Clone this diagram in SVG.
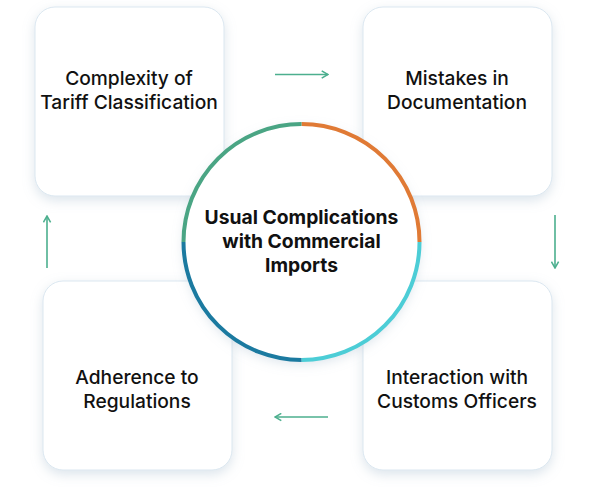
<svg xmlns="http://www.w3.org/2000/svg" width="602" height="493" viewBox="0 0 602 493">
<defs>
<filter id="sh" x="-20%" y="-20%" width="140%" height="140%">
<feDropShadow dx="0" dy="4" stdDeviation="6" flood-color="#9bb4c8" flood-opacity="0.35"/>
</filter>
<marker id="ah" viewBox="0 0 10 10" refX="9" refY="5" markerWidth="9" markerHeight="9" markerUnits="userSpaceOnUse" orient="auto">
<path d="M2,1 L9,5 L2,9" fill="none" stroke="#4caf8e" stroke-width="1.7"/>
</marker>
<style>
.box{fill:#ffffff;stroke:#dbe7f0;stroke-width:1;filter:url(#sh)}
.lbl{font-family:Inter,"Liberation Sans",sans-serif;font-size:19.2px;font-weight:500;fill:#111;text-anchor:middle}
.ctr{font-family:Inter,"Liberation Sans",sans-serif;font-size:19.3px;font-weight:700;fill:#111;text-anchor:middle}
.arr{stroke:#4caf8e;stroke-width:1.6;fill:none;marker-end:url(#ah)}
.ring{fill:none;stroke-width:4}
</style>
</defs>
<g id="node-complexity">
<rect class="box" x="35" y="7" width="189" height="189" rx="20"/>
<text class="lbl" x="129" y="85">Complexity of</text>
<text class="lbl" x="129" y="109">Tariff Classification</text>
</g>
<g id="node-mistakes">
<rect class="box" x="363" y="7" width="189" height="189" rx="20"/>
<text class="lbl" x="457" y="85">Mistakes in</text>
<text class="lbl" x="457" y="109">Documentation</text>
</g>
<g id="node-adherence">
<rect class="box" x="43" y="281" width="189" height="189" rx="20"/>
<text class="lbl" x="137" y="384">Adherence to</text>
<text class="lbl" x="137" y="408">Regulations</text>
</g>
<g id="node-interaction">
<rect class="box" x="363" y="281" width="189" height="189" rx="20"/>
<text class="lbl" x="457" y="384">Interaction with</text>
<text class="lbl" x="457" y="408">Customs Officers</text>
</g>
<g id="connectors">
<line class="arr" x1="275" y1="74.5" x2="328" y2="74.5"/>
<line class="arr" x1="555" y1="215" x2="555" y2="268"/>
<line class="arr" x1="328" y1="417" x2="275" y2="417"/>
<line class="arr" x1="47" y1="268" x2="47" y2="216"/>
</g>
<g id="node-center">
<circle cx="301.5" cy="242" r="118" fill="#ffffff" filter="url(#sh)"/>
<path class="ring" stroke="#e07a35" d="M301.5,124 A118,118 0 0 1 419.5,242"/>
<path class="ring" stroke="#4ccdd6" d="M419.5,242 A118,118 0 0 1 301.5,360"/>
<path class="ring" stroke="#1b7aa0" d="M301.5,360 A118,118 0 0 1 183.5,242"/>
<path class="ring" stroke="#4aa584" d="M183.5,242 A118,118 0 0 1 301.5,124"/>
<text class="ctr" x="301.5" y="224">Usual Complications</text>
<text class="ctr" x="301.5" y="248">with Commercial</text>
<text class="ctr" x="301.5" y="272">Imports</text>
</g>
</svg>
